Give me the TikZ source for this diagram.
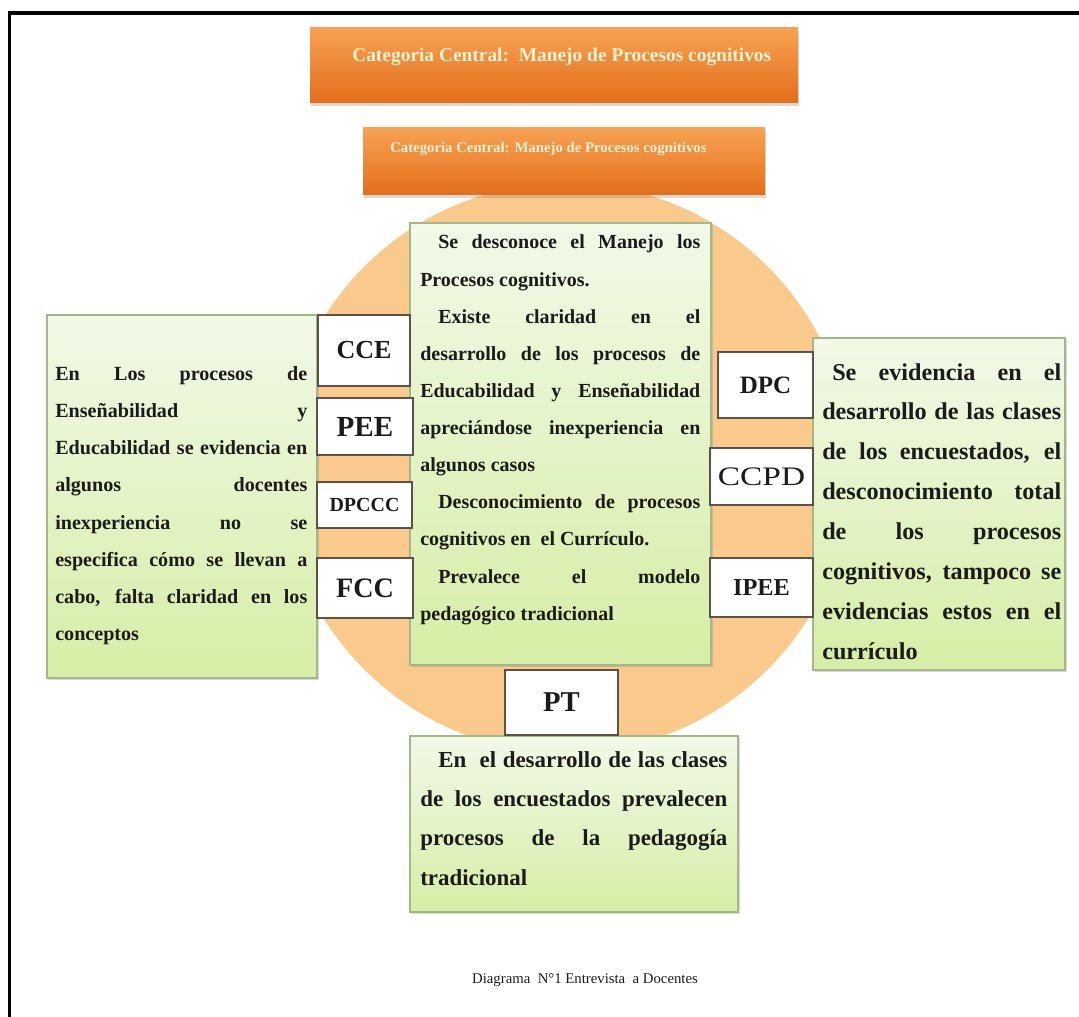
\documentclass[tikz,border=0pt]{standalone}
\usepackage{fontspec}
\setmainfont{Liberation Serif}
\usetikzlibrary{positioning,fit,shadows}

\definecolor{bannertop}{HTML}{F8A253}
\definecolor{bannerbot}{HTML}{E36E1A}
\definecolor{bannercream}{HTML}{FFF3D4}
\definecolor{discfill}{HTML}{FAC98C}
\definecolor{greentop}{HTML}{F2F9E8}
\definecolor{greenbot}{HTML}{D6EEA6}
\definecolor{greenline}{HTML}{A2B78A}
\definecolor{tagline}{HTML}{5E5248}
\definecolor{ink}{HTML}{1B1B1B}

% one printed line: stretched to the full width, indented and stretched, or left as it is
\newcommand{\fullline}[1]{\makebox[\linewidth][s]{#1}\par}
\newcommand{\indline}[2]{\hspace*{#1}\makebox[\dimexpr\linewidth-#1\relax][s]{#2}\par}
\newcommand{\restline}[1]{#1\par}

\begin{document}
\begin{tikzpicture}[
  x=0.025cm, y=-0.025cm,
  disc/.style={circle, fill=discfill, minimum size=14.25cm, inner sep=0pt},
  banner/.style={inner sep=0pt, top color=bannertop, bottom color=bannerbot,
    drop shadow={shadow xshift=1pt, shadow yshift=-2pt, opacity=0.3}},
  bannertext/.style={inner sep=0pt, text=bannercream},
  greenbox/.style={draw=greenline, line width=0.8pt, inner sep=0pt,
    top color=greentop, bottom color=greenbot,
    drop shadow={shadow xshift=1.5pt, shadow yshift=-1.5pt, opacity=0.3}},
  body/.style={inner sep=0pt, text=ink, anchor=base west},
  tag/.style={draw=tagline, line width=0.9pt, fill=white, inner sep=0pt, text=ink}
]
\useasboundingbox (0,0) rectangle (1079,1017);

% frame
\draw[line width=2.8pt] (9.5,1017) -- (9.5,13) -- (1079,13);

% background disc
\node[disc] (disc) at (566,468) {};

% banners
\node[banner, fit={(310,28) (798,103)}] (maincat) {};
\node[bannertext, anchor=base west, font=\bfseries\fontsize{13.8}{16}\selectfont] (maincattext) at (352,62)
  {Categoria Central:\ \ Manejo de Procesos cognitivos};
\node[banner, fit={(363,128) (765,195)}] (subcat) {};
\node[bannertext, anchor=base west, font=\bfseries\fontsize{10.5}{12}\selectfont] (subcattext) at (390,153)
  {Categoria Central: Manejo de Procesos cognitivos};

% green boxes
\node[greenbox, fit={(410,223) (711,665)}] (centerbox) {};
\node[greenbox, fit={(47,315) (317,678)}] (leftbox) {};
\node[greenbox, fit={(813,338) (1065,670)}] (rightbox) {};
\node[greenbox, fit={(410,736) (738,912)}] (bottombox) {};

\node[body, font=\bfseries\fontsize{14.2}{26.4}\selectfont] (centertext) at (420,249) {\parbox[t]{7cm}{%
  \indline{0.45cm}{Se desconoce el Manejo los}
  \restline{Procesos cognitivos.}
  \indline{0.45cm}{Existe claridad en el}
  \fullline{desarrollo de los procesos de}
  \fullline{Educabilidad y Enseñabilidad}
  \fullline{apreciándose inexperiencia en}
  \restline{algunos casos}
  \indline{0.45cm}{Desconocimiento de procesos}
  \restline{cognitivos en\ \ el Currículo.}
  \indline{0.45cm}{Prevalece el modelo}
  \restline{pedagógico tradicional}}};

\node[body, font=\bfseries\fontsize{14.3}{26.5}\selectfont] (lefttext) at (55,380) {\parbox[t]{6.3cm}{%
  \fullline{En Los procesos de}
  \fullline{Enseñabilidad y}
  \fullline{Educabilidad se evidencia en}
  \fullline{algunos docentes}
  \fullline{inexperiencia no se}
  \fullline{especifica cómo se llevan a}
  \fullline{cabo, falta claridad en los}
  \restline{conceptos}}};

\node[body, font=\bfseries\fontsize{17.2}{28.35}\selectfont] (righttext) at (822,380) {\parbox[t]{5.975cm}{%
  \indline{0.25cm}{Se evidencia en el}
  \fullline{desarrollo de las clases}
  \fullline{de los encuestados, el}
  \fullline{desconocimiento total}
  \fullline{de los procesos}
  \fullline{cognitivos, tampoco se}
  \fullline{evidencias estos en el}
  \restline{currículo}}};

\node[body, font=\bfseries\fontsize{16.3}{28}\selectfont] (bottomtext) at (420,767) {\parbox[t]{7.675cm}{%
  \indline{0.45cm}{En\ \ el desarrollo de las clases}
  \fullline{de los encuestados prevalecen}
  \fullline{procesos de la pedagogía}
  \restline{tradicional}}};

% tags
\node[tag, minimum width=2.3cm, minimum height=1.775cm, font=\bfseries\fontsize{18.5}{20}\selectfont] (cce) at (364,350.5) {CCE};
\node[tag, minimum width=2.4cm, minimum height=1.425cm, font=\bfseries\fontsize{20.7}{22}\selectfont] (pee) at (365,426.5) {PEE};
\node[tag, minimum width=2.375cm, minimum height=1.15cm, font=\bfseries\fontsize{14.2}{16}\selectfont] (dpccc) at (364.5,505) {DPCCC};
\node[tag, minimum width=2.4cm, minimum height=1.5cm, font=\bfseries\fontsize{20}{22}\selectfont] (fcc) at (365,588) {FCC};
\node[tag, minimum width=2.375cm, minimum height=1.65cm, font=\bfseries\fontsize{17.8}{20}\selectfont] (dpc) at (765.5,385) {DPC};
\node[tag, minimum width=2.575cm, minimum height=1.425cm, font=\fontsize{19}{20}\selectfont] (ccpd) at (761.5,476.5) {\scalebox{1.25}[1]{CCPD}};
\node[tag, minimum width=2.575cm, minimum height=1.475cm, font=\bfseries\fontsize{17.3}{20}\selectfont] (ipee) at (761.5,587.5) {IPEE};
\node[tag, minimum width=2.825cm, minimum height=1.625cm, font=\bfseries\fontsize{20.4}{22}\selectfont] (pt) at (561.5,702.5) {PT};

% caption
\node[anchor=base, inner sep=0pt, text=ink, font=\fontsize{10.5}{12}\selectfont] (caption) at (585,983)
  {Diagrama\ \ N°1 Entrevista\ \ a Docentes};
\end{tikzpicture}
\end{document}
